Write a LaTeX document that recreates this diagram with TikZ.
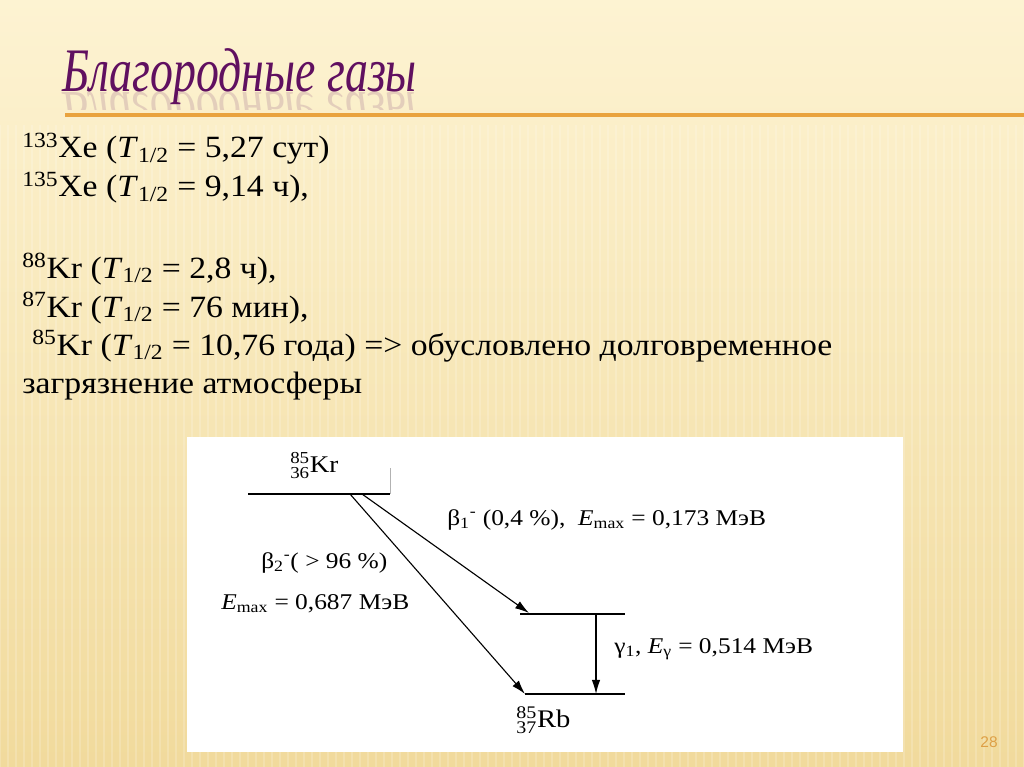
\documentclass[tikz,border=0pt]{standalone}
\usepackage{amsmath}
\usepackage{graphicx}
\usepackage{fontspec}
\setmainfont{Liberation Serif}
\newfontfamily\bodyfont[FakeStretch=1.09]{Liberation Serif}
\newfontfamily\diagfont[FakeStretch=1.13]{Liberation Serif}
\newfontfamily\titlefont[FakeStretch=0.74]{Liberation Serif}
\newfontfamily\numfont{Liberation Sans}
\usepackage{tikz}
\usetikzlibrary{arrows.meta}
\definecolor{bgtop}{RGB}{253,243,210}
\definecolor{bgbot}{RGB}{241,218,156}
\definecolor{titlepurple}{RGB}{96,16,96}
\definecolor{ruleorange}{RGB}{233,163,62}
\definecolor{pagenum}{RGB}{222,160,70}
\newcommand{\nucl}[3]{${}^{\text{#1}}_{\text{#2}}$#3}
\newcommand{\halflife}{\textit{T}\textsubscript{1/2}}

\begin{document}
\begin{tikzpicture}[x=0.025cm, y=-0.025cm,
    body/.style={anchor=base west, inner sep=0pt, font=\bodyfont\fontsize{22}{26}\selectfont},
    lbl/.style={anchor=base west, inner sep=0pt, font=\diagfont\fontsize{16}{19}\selectfont},
    lvl/.style={line width=0.8pt},
    decay/.style={line width=0.8pt, -{Latex[length=10pt,width=6pt]}}]
    \useasboundingbox (0,0) rectangle (1024,767);
    \shade[top color=bgtop, bottom color=bgbot] (0,0) rectangle (1024,767);
    \foreach \x in {0,8,...,1024}
        \draw[white, opacity=0.18, line width=1.2pt] (\x,125) -- (\x,767);
    \draw[ruleorange, line width=2.2pt] (65,115) -- (1024,115);

    \node[anchor=base west, inner sep=0pt, text=titlepurple, font=\titlefont\itshape\fontsize{44}{50}\selectfont] (title) at (62,92) {Благородные газы};
    \begin{scope}
        \clip (0,93) rectangle (1024,110);
        \node[anchor=base west, inner sep=0pt, text=titlepurple, opacity=0.15, font=\titlefont\itshape\fontsize{44}{50}\selectfont] (titlerefl) at (62,93) {\scalebox{1}[-1]{Благородные газы}};
    \end{scope}

    \node[body] (xe133) at (22,158) {\textsuperscript{133}Xe (\halflife{} = 5,27 сут)};
    \node[body] (xe135) at (22,197) {\textsuperscript{135}Xe (\halflife{} = 9,14 ч),};
    \node[body] (kr88) at (22,278) {\textsuperscript{88}Kr (\halflife{} = 2,8 ч),};
    \node[body] (kr87) at (22,317) {\textsuperscript{87}Kr (\halflife{} = 76 мин),};
    \node[body] (kr85) at (32,355) {\textsuperscript{85}Kr (\halflife{} = 10,76 года) => обусловлено долговременное};
    \node[body] (kr85b) at (22,393) {загрязнение атмосферы};

    \fill[white] (187,437) rectangle (903,752);
    \coordinate (KrL) at (248,494);
    \coordinate (KrR) at (390,494);
    \coordinate (KrTop) at (390,468);
    \coordinate (MidL) at (520,614);
    \coordinate (MidR) at (625,614);
    \coordinate (RbL) at (525,694);
    \coordinate (RbR) at (625,694);
    \coordinate (B2s) at (350,494);
    \coordinate (B1s) at (362,494);
    \coordinate (B1e) at (529,613);
    \coordinate (Gs) at (596,614);
    \coordinate (Ge) at (596,694);
    \draw[lvl] (KrL) -- (KrR);
    \draw[gray!60, line width=0.5pt] (KrTop) -- (KrR);
    \draw[lvl] (MidL) -- (MidR);
    \draw[lvl] (RbL) -- (RbR);
    \draw[decay] (B2s) -- (RbL);
    \draw[decay] (B1s) -- (B1e);
    \draw[decay] (Gs) -- (Ge);

    \node[lbl, font=\diagfont\fontsize{17}{20}\selectfont] (kr) at (290,472) {\nucl{85}{36}{Kr}};
    \node[lbl, font=\diagfont\fontsize{18}{21}\selectfont] (rb) at (516,727) {\nucl{85}{37}{Rb}};
    \node[lbl] (beta1) at (447,525) {β\textsubscript{1}\textsuperscript{-} (0,4 \%),\ \ \textit{E}\textsubscript{max} = 0,173 МэВ};
    \node[lbl] (beta2) at (261,568) {β\textsubscript{2}\textsuperscript{-}( > 96 \%)};
    \node[lbl] (emax2) at (221,609) {\textit{E}\textsubscript{max} = 0,687 МэВ};
    \node[lbl] (gamma1) at (614,653) {γ\textsubscript{1}, \textit{E}\textsubscript{γ} = 0,514 МэВ};

    \node[text=pagenum, font=\numfont\fontsize{11}{13}\selectfont] (page) at (989,742) {28};
\end{tikzpicture}
\end{document}
